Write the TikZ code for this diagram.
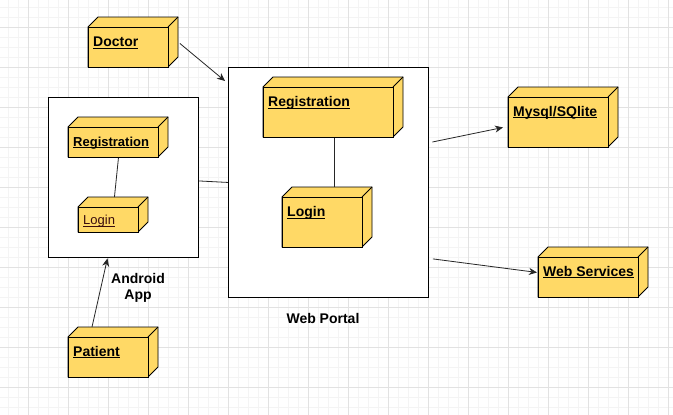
\documentclass[tikz,border=0pt]{standalone}
\usepackage{fontspec}
\setmainfont{Liberation Sans}
\usetikzlibrary{arrows.meta,calc}
\definecolor{cubefill}{HTML}{FFD966}
\definecolor{gridminor}{HTML}{F4F4F4}
\definecolor{gridmajor}{HTML}{E2E2E2}
\definecolor{loginred}{HTML}{3A0D0D}
\newcommand\myul[1]{\setbox0=\hbox{#1}\rlap{\rule[-2pt]{\wd0}{0.9pt}}\box0}
\tikzset{
  cubeface/.style={draw=black, fill=cubefill, line width=0.9pt, line join=miter},
  frontface/.style={draw=black, fill=cubefill, line width=0.9pt, anchor=north west, inner sep=0pt},
  container/.style={draw=black, fill=white, line width=0.9pt, anchor=north west, inner sep=0pt},
  boldlbl/.style={font=\fontsize{14pt}{16pt}\selectfont\bfseries, inner sep=0pt},
  smallbold/.style={font=\fontsize{13pt}{15pt}\selectfont\bfseries, inner sep=0pt},
  smallreg/.style={font=\fontsize{13pt}{15pt}\selectfont, text=loginred, inner sep=0pt},
  conn/.style={draw=black!85, line width=0.8pt},
  arr/.style={conn, -{Stealth[length=8pt,width=7pt,inset=2.5pt]}},
}
% name, x, y, w, h, label style, baseline offset, text
\newcommand\cubenode[8]{%
  \filldraw[cubeface] (#2,#3) -- ++(10,-10) -- ++(#4,0) -- ++(0,#5) -- ++(-10,10) -- ++(-#4,0) -- cycle;
  \draw[cubeface] (#2+#4,#3) -- ++(10,-10);
  \node[frontface, minimum width=#4pt, minimum height=#5pt] (#1) at (#2,#3) {};
  \node[#6, anchor=base west] (#1-label) at (#2+5,#3+#7) {\myul{#8}};
}
\begin{document}
\begin{tikzpicture}[x=1pt, y=-1pt]
  \fill[white] (0,0) rectangle (673,415);
  \useasboundingbox (0,0) rectangle (673,415);
  % grid
  \foreach \gx in {8,18,...,668} \draw[gridminor, line width=0.8pt] (\gx,0) -- (\gx,415);
  \foreach \gy in {7,17,...,407} \draw[gridminor, line width=0.8pt] (0,\gy) -- (673,\gy);
  \foreach \gx in {28,68,...,668} \draw[gridmajor, line width=0.8pt] (\gx,0) -- (\gx,415);
  \foreach \gy in {27,67,...,407} \draw[gridmajor, line width=0.8pt] (0,\gy) -- (673,\gy);

  % containers
  \node[container, minimum width=150pt, minimum height=160pt] (android) at (48,97) {};
  \node[container, minimum width=200pt, minimum height=230pt] (web) at (228,67) {};

  % inner cubes
  \cubenode{areg}{68}{127}{90}{30}{smallbold}{19}{Registration}
  \cubenode{alog}{78}{207}{60}{25}{smallreg}{17.5}{Login}
  \cubenode{wreg}{263}{87}{130}{50}{boldlbl}{19.5}{Registration}
  \cubenode{wlog}{282}{197}{80}{50}{boldlbl}{19.5}{Login}

  % outer cubes
  \cubenode{doctor}{88}{27}{80}{40}{boldlbl}{19.5}{Doctor}
  \cubenode{patient}{68}{337}{80}{40}{boldlbl}{19}{Patient}
  \cubenode{mysql}{508}{97}{100}{50}{boldlbl}{19}{Mysql/SQlite}
  \cubenode{ws}{538}{257}{100}{40}{boldlbl}{19}{Web Services}

  % labels
  \node[boldlbl, align=center, anchor=center] (androidlbl) at (138,288) {Android\\App};
  \node[boldlbl, anchor=base] (weblbl) at (323,323) {Web Portal};

  % connectors
  \draw[conn] ($(areg.south)+(5,0)$) -- ($(alog.north)+(6,-10)$);
  \draw[conn] ($(wreg.south)+(6,0)$) -- ($(wlog.north)+(12,-10)$);
  \draw[conn] ($(android.east)+(0,3.5)$) -- (web.west);
  \draw[arr] ($(doctor.east)+(11,-4)$) -- ($(web.north west)+(-3,14)$);
  \draw[arr] ($(patient.north west)+(24,-10)$) -- ($(android.south)+(-16,0.5)$);
  \draw[arr] ($(web.north east)+(3.5,75)$) -- ($(mysql.west)+(-5,5)$);
  \draw[arr] ($(web.south east)+(4,-39)$) -- ($(ws.west)+(-1,-5)$);
\end{tikzpicture}
\end{document}
